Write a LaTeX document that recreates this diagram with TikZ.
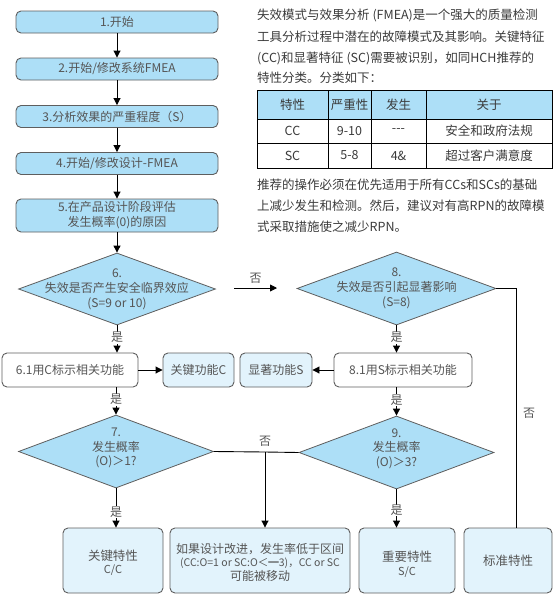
\documentclass[tikz,border=0pt]{standalone}
\usepackage{fontspec}
\setmainfont{Noto Sans CJK SC}
\usetikzlibrary{arrows.meta,shapes.geometric}
\definecolor{bfill}{HTML}{ADDFF7}
\definecolor{lfill}{HTML}{E2F3FC}
\definecolor{bdraw}{HTML}{5E5E5E}
\definecolor{tgray}{HTML}{555555}
\definecolor{tdark}{HTML}{3A3A3A}
\begin{document}
\begin{tikzpicture}[x=1pt,y=-1pt,
  box/.style={draw=bdraw, line width=0.9pt, rounded corners=5pt, fill=bfill, text=tgray,
    font=\fontsize{12}{14}\selectfont, align=center, inner sep=0pt},
  wbox/.style={box, fill=white},
  lbox/.style={box, fill=lfill},
  dia/.style={diamond, draw=bdraw, line width=0.8pt, fill=bfill, inner sep=0pt},
  dtext/.style={text=tgray, font=\fontsize{12}{15}\selectfont, align=center, inner sep=0pt},
  conn/.style={draw=black, line width=0.9pt},
  arr/.style={conn, -{Triangle[length=7pt,width=7pt]}},
  lbl/.style={fill=white, inner sep=0.6pt, text=tgray, font=\fontsize{12}{12}\selectfont},
  nlbl/.style={inner sep=0.6pt, text=tgray, font=\fontsize{12}{12}\selectfont},
  para/.style={anchor=west, inner sep=0pt, text=tdark, font=\fontsize{12.5}{15}\selectfont},
  cell/.style={draw=black, line width=0.8pt, inner sep=0pt, text=tdark, font=\fontsize{12.5}{15}\selectfont},
]
\useasboundingbox (0,0) rectangle (553,598);

% left column
\node[box, minimum width=202pt, minimum height=22pt] (b1) at (117,22) {1.开始};
\node[box, minimum width=202pt, minimum height=22pt] (b2) at (117,69) {2.开始/修改系统FMEA};
\node[box, minimum width=202pt, minimum height=22pt] (b3) at (117,116.5) {3.分析效果的严重程度（S）};
\node[box, minimum width=202pt, minimum height=22pt] (b4) at (117,163.5) {4.开始/修改设计-FMEA};
\node[box, minimum width=202pt, minimum height=33pt, font=\fontsize{12}{15}\selectfont] (b5) at (117,215.5) {5.在产品设计阶段评估\\发生概率(0)的原因};

\draw[arr] (b1) -- (b2);
\draw[arr] (b2) -- (b3);
\draw[arr] (b3) -- (b4);
\draw[arr] (b4) -- (b5);

% diamonds
\node[dia, minimum width=197pt, minimum height=72pt] (d6) at (117,289) {};
\node[dtext] (d6t) at (117,289.5) {6.\\失效是否产生安全临界效应\\(S=9 or 10)};
\node[dia, minimum width=199pt, minimum height=73pt] (d8) at (396.5,288.5) {};
\node[dtext] (d8t) at (396.5,288.5) {8.\\失效是否引起显著影响\\(S=8)};
\node[dia, minimum width=195pt, minimum height=73pt] (d7) at (116,451.5) {};
\node[dtext, font=\fontsize{12}{14.5}\selectfont] (d7t) at (116,448) {7.\\发生概率\\(O)＞1?};
\node[dia, minimum width=195pt, minimum height=73pt] (d9) at (396.5,452.5) {};
\node[dtext, font=\fontsize{12}{14.5}\selectfont] (d9t) at (396.5,448.5) {9.\\发生概率\\(O)＞3?};

\draw[arr] (b5) -- (d6);

% row of 6.1 / 8.1
\node[wbox, minimum width=136pt, minimum height=34pt] (b61) at (70,370) {6.1用C标示相关功能};
\node[lbox, minimum width=71pt, minimum height=34pt] (bkc) at (198.5,370) {关键功能C};
\node[lbox, minimum width=72pt, minimum height=34pt] (bks) at (276,370) {显著功能S};
\node[wbox, minimum width=138pt, minimum height=34pt] (b81) at (403,370) {8.1用S标示相关功能};

% bottom row
\node[lbox, minimum width=100pt, minimum height=65pt] (bkey) at (113,560.5) {};
\node[dtext, font=\fontsize{12.5}{13}\selectfont] (bkeyt) at (113,563) {关键特性\\{\fontsize{11}{13}\selectfont C/C}};
\node[lbox, minimum width=180pt, minimum height=65pt] (bmid) at (260,560.5) {};
\node[dtext, font=\fontsize{12}{13.5}\selectfont] (bmidt) at (260,562) {如果设计改进，发生率低于区间\\{\fontsize{10.5}{13.5}\selectfont (CC:O=1 or SC:O＜━3)，CC or SC}\\可能被移动};
\node[lbox, minimum width=96pt, minimum height=65pt] (bimp) at (407,560.5) {};
\node[dtext, font=\fontsize{12.5}{14}\selectfont] (bimpt) at (407,564) {重要特性\\{\fontsize{11}{14}\selectfont S/C}};
\node[lbox, minimum width=88pt, minimum height=65pt, font=\fontsize{12.5}{14}\selectfont] (bstd) at (508,560.5) {标准特性};

% connectors
\coordinate (n1) at (234,288);
\coordinate (n2) at (277,288);
\draw[arr] (n1) -- node[nlbl, above=3pt] {否} (n2);

\draw[arr] (d6.south) -- node[lbl, pos=0.45] {是} (d6.south |- b61.north);
\draw[arr] (b61.east) -- (bkc.west);
\draw[arr] (d8.south) -- node[lbl, pos=0.45] {是} (d8.south |- b81.north);
\draw[arr] (b81.west) -- (bks.east);
\draw[arr] (d7.north |- b61.south) -- node[lbl, pos=0.45] {是} (d7.north);
\draw[arr] (d9.north |- b81.south) -- node[lbl, pos=0.45] {是} (d9.north);

\coordinate (j) at (265,452);
\draw[conn] (d7.east) -- (j) node[nlbl, above=4pt] {否} -- (d9.west);
\draw[arr] (j) -- (j |- bmid.north);
\draw[arr] (d7.south) -- node[lbl, pos=0.6] {是} (d7.south |- bkey.north);
\draw[arr] (d9.south) -- node[lbl, pos=0.55] {是} (d9.south |- bimp.north);

\coordinate (c8) at (516,288.5);
\draw[conn] (d8.east) -- (c8) -- node[nlbl, pos=0.52, right=6pt] {否} (c8 |- bstd.north);

% right text
\node[para] (p1) at (257,15) {失效模式与效果分析 (FMEA)是一个强大的质量检测};
\node[para] (p2) at (257,37) {工具分析过程中潜在的故障模式及其影响。关键特征};
\node[para] (p3) at (257,58.5) {(CC)和显著特征 (SC)需要被识别，如同HCH推荐的};
\node[para] (p4) at (257,78) {特性分类。分类如下：};

% table
\node[cell, fill=bfill, minimum width=71pt, minimum height=29pt] (t11) at (292.5,104.5) {特性};
\node[cell, fill=bfill, minimum width=43pt, minimum height=29pt] (t12) at (349.5,104.5) {严重性};
\node[cell, fill=bfill, minimum width=55pt, minimum height=29pt] (t13) at (398.5,104.5) {发生};
\node[cell, fill=bfill, minimum width=126pt, minimum height=29pt] (t14) at (489,104.5) {关于};
\node[cell, minimum width=71pt, minimum height=24pt] (t21) at (292.5,131) {CC};
\node[cell, minimum width=43pt, minimum height=24pt] (t22) at (349.5,131) {9-10};
\node[cell, minimum width=55pt, minimum height=24pt] (t23) at (398.5,131) {{-}{-}{-}};
\node[cell, minimum width=126pt, minimum height=24pt] (t24) at (489,131) {安全和政府法规};
\node[cell, minimum width=71pt, minimum height=25pt] (t31) at (292.5,155.5) {SC};
\node[cell, minimum width=43pt, minimum height=25pt] (t32) at (349.5,155.5) {5-8};
\node[cell, minimum width=55pt, minimum height=25pt] (t33) at (398.5,155.5) {4\&};
\node[cell, minimum width=126pt, minimum height=25pt] (t34) at (489,155.5) {超过客户满意度};

\node[para] (q1) at (257,185) {推荐的操作必须在优先适用于所有CCs和SCs的基础};
\node[para] (q2) at (257,205.5) {上减少发生和检测。然后，建议对有高RPN的故障模};
\node[para] (q3) at (257,226.5) {式采取措施使之减少RPN。};
\end{tikzpicture}
\end{document}
